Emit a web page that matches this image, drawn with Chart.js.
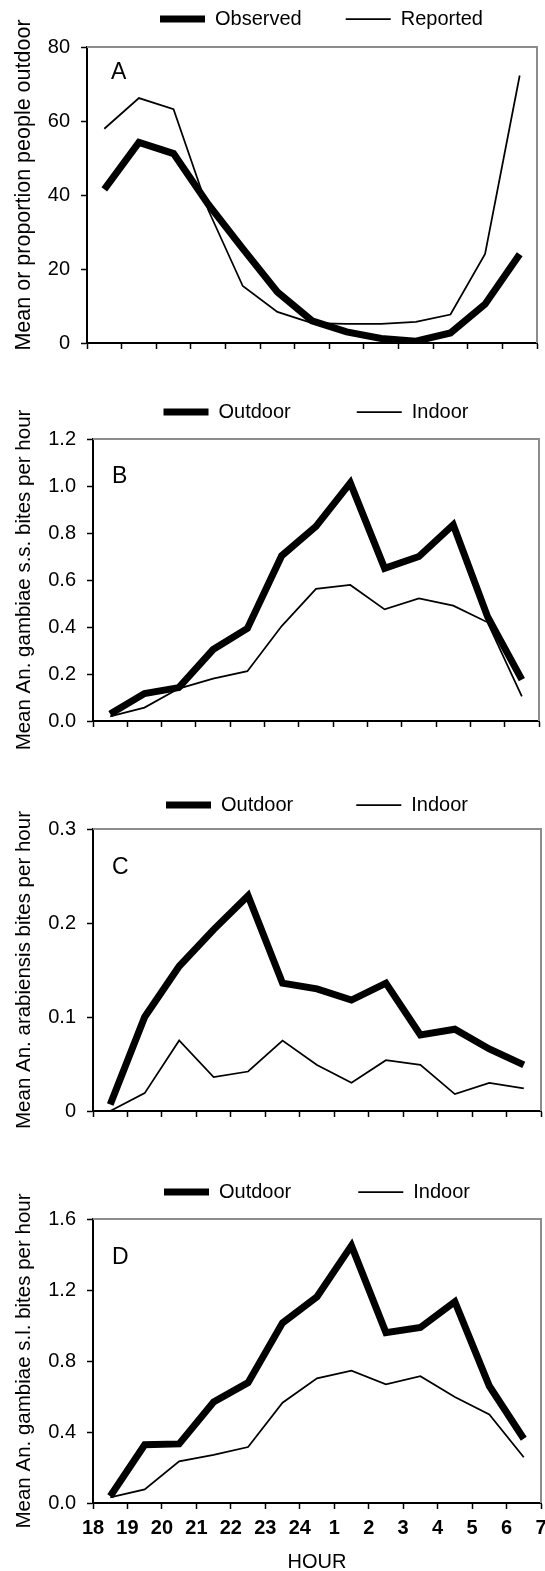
<!DOCTYPE html>
<html>
<head>
<meta charset="utf-8">
<script src="https://cdn.jsdelivr.net/npm/chart.js@4.4.1/dist/chart.umd.min.js"></script>
<style>
html,body{margin:0;padding:0;background:#fff;overflow:hidden;}
body{width:545px;height:1571px;position:relative;}
.pane{position:absolute;left:0;}
canvas{display:block;}
</style>
</head>
<body>
<div class="pane" style="top:0px"><canvas id="cA" width="700" height="360"></canvas></div>
<div class="pane" style="top:360px"><canvas id="cB" width="545" height="400"></canvas></div>
<div class="pane" style="top:750px"><canvas id="cC" width="545" height="400"></canvas></div>
<div class="pane" style="top:1130px"><canvas id="cD" width="545" height="441"></canvas></div>
<script>
// ---- data ----
const hourMid = [18.5, 19.5, 20.5, 21.5, 22.5, 23.5, 24.5, 25.5, 26.5, 27.5, 28.5, 29.5, 30.5];
const hourTickLabels = ['18','19','20','21','22','23','24','1','2','3','4','5','6','7'];

const observedA = [41.5, 54.2, 51.2, 37.5, 25.5, 13.8, 6.0, 3.0, 1.2, 0.5, 2.7, 10.5, 24.0];
const reportedA = [57.9, 66.2, 63.2, 36.0, 15.4, 8.4, 5.4, 5.2, 5.2, 5.7, 7.7, 24.1, 72.3];

const outdoorB = [0.030, 0.117, 0.142, 0.304, 0.394, 0.703, 0.828, 1.013, 0.650, 0.700, 0.835, 0.444, 0.176];
const indoorB  = [0.020, 0.057, 0.138, 0.180, 0.212, 0.404, 0.562, 0.579, 0.475, 0.522, 0.491, 0.420, 0.105];

const outdoorC = [0.007, 0.100, 0.154, 0.193, 0.229, 0.136, 0.130, 0.118, 0.136, 0.081, 0.087, 0.066, 0.049];
const indoorC  = [0.000, 0.019, 0.075, 0.036, 0.042, 0.075, 0.049, 0.030, 0.054, 0.049, 0.018, 0.030, 0.024];

const outdoorD = [0.038, 0.328, 0.333, 0.569, 0.678, 1.015, 1.162, 1.450, 0.960, 0.989, 1.134, 0.659, 0.362];
const indoorD  = [0.032, 0.077, 0.235, 0.271, 0.315, 0.565, 0.702, 0.746, 0.669, 0.714, 0.597, 0.499, 0.258];

const yTicksA = ['0','20','40','60','80'];
const yTicksB = ['0.0','0.2','0.4','0.6','0.8','1.0','1.2'];
const yTicksC = ['0','0.1','0.2','0.3'];
const yTicksD = ['0.0','0.4','0.8','1.2','1.6'];

// ---- rendering ----
const FONT = "'Liberation Sans', Arial, Helvetica, sans-serif";
Chart.defaults.font.family = FONT;
Chart.defaults.font.size = 20;
Chart.defaults.color = '#000';

const decor = {
  id: 'decor',
  beforeDatasetsDraw(chart, args, o) {
    const {ctx, chartArea: a} = chart;
    ctx.save();
    ctx.strokeStyle = '#8c8c8c';
    ctx.lineWidth = 2;
    ctx.beginPath();
    ctx.moveTo(a.left, a.top);
    ctx.lineTo(a.right, a.top);
    ctx.lineTo(a.right, a.bottom);
    ctx.stroke();
    ctx.restore();
  },
  afterDraw(chart, args, o) {
    const {ctx, chartArea: a} = chart;
    ctx.save();
    ctx.fillStyle = '#000';
    ctx.textBaseline = 'middle';
    ctx.textAlign = 'left';
    ctx.font = '23px ' + FONT;
    ctx.fillText(o.letter, a.left + o.letterDx, a.top + o.letterDy);
    ctx.font = o.yTitleSize + 'px ' + FONT;
    ctx.translate(o.yTitleX, (a.top + a.bottom) / 2 + o.yTitleShift);
    ctx.rotate(-Math.PI / 2);
    ctx.textAlign = 'center';
    ctx.fillText(o.yTitle, 0, 0);
    ctx.restore();
  }
};

function makeChart(id, cfg) {
  const mk = (arr) => hourMid.map((h, i) => ({x: h, y: arr[i]}));
  const canvas = document.getElementById(id);
  const W = canvas.width;
  const extra = cfg.rightExtra || 0;
  const scales = {
    x: {
      type: 'linear', min: 18, max: 31,
      ticks: {stepSize: 1, display: cfg.showX, autoSkip: false, maxRotation: 0, padding: 7, color: '#000',
              font: {size: 20, weight: 'bold'}, callback: (v, i) => hourTickLabels[i]},
      grid: {display: true, drawOnChartArea: false, drawTicks: true, tickLength: 6, tickWidth: 1.5, tickColor: '#000'},
      border: {display: true, color: '#000', width: 2},
      title: {display: cfg.showX, text: 'HOUR', color: '#000', font: {size: 20}, padding: {top: 0, bottom: -3}},
      afterFit: (s) => { s.height = cfg.xH; s.paddingLeft = 0; s.paddingRight = 0; }
    },
    y: {
      min: 0, max: cfg.yMax,
      ticks: {stepSize: cfg.yStep, padding: 11, color: '#000', font: {size: 20}, autoSkip: false,
              callback: (v, i) => cfg.yTicks[i]},
      grid: {display: true, drawOnChartArea: false, drawTicks: true, tickLength: 6, tickWidth: 1.5, tickColor: '#000'},
      border: {display: true, color: '#000', width: 2},
      afterFit: (s) => { s.width = cfg.L; s.paddingTop = 0; s.paddingBottom = 0; }
    }
  };
  if (extra) {
    // empty right-hand spacer so the legend row sits where the reference puts it
    scales.yRightSpace = {
      position: 'right', display: true, min: 0, max: 1,
      grid: {display: false, drawTicks: false}, border: {display: false}, ticks: {display: false},
      afterFit: (s) => { s.width = extra; s.paddingTop = 0; s.paddingBottom = 0; }
    };
  }
  return new Chart(canvas, {
    type: 'line',
    data: {
      datasets: [
        {label: cfg.names[0], data: mk(cfg.series[0]), borderColor: '#000', backgroundColor: '#000',
         borderWidth: 7, pointRadius: 0, pointHoverRadius: 0, pointStyle: 'line', tension: 0, fill: false},
        {label: cfg.names[1], data: mk(cfg.series[1]), borderColor: '#000', backgroundColor: '#000',
         borderWidth: 1.75, pointRadius: 0, pointHoverRadius: 0, pointStyle: 'line', tension: 0, fill: false}
      ]
    },
    options: {
      responsive: false,
      animation: false,
      devicePixelRatio: 1,
      events: [],
      layout: {padding: {top: cfg.padTop, bottom: cfg.padBottom, left: 0, right: W - cfg.R - extra}},
      plugins: {
        legend: {
          display: true, position: 'top', fullSize: !!extra, align: 'center',
          labels: {usePointStyle: true, pointStyleWidth: 45, padding: cfg.legendGap, color: '#000', font: {size: 20}}
        },
        title: {display: true, text: '', weight: 500, font: {size: 1, lineHeight: 1}, padding: {top: 0, bottom: cfg.spacer - 1}},
        tooltip: {enabled: false},
        decor: {letter: cfg.letter, letterDx: cfg.letterDx, letterDy: cfg.letterDy,
                yTitle: cfg.yTitle, yTitleX: 24, yTitleShift: cfg.yTitleShift, yTitleSize: cfg.yTitleSize}
      },
      scales: scales
    },
    plugins: [decor]
  });
}

makeChart('cA', {names: ['Observed', 'Reported'], series: [observedA, reportedA],
  L: 87, R: 537, rightExtra: 106, padTop: -35, padBottom: 7, xH: 10, legendGap: 44, spacer: 8,
  yMax: 80, yStep: 20, yTicks: yTicksA, showX: false,
  letter: 'A', letterDx: 24, letterDy: 26,
  yTitle: 'Mean or proportion people outdoor', yTitleShift: -10, yTitleSize: 21.5});

makeChart('cB', {names: ['Outdoor', 'Indoor'], series: [outdoorB, indoorB],
  L: 93, R: 539, padTop: -24, padBottom: 29, xH: 10, legendGap: 66, spacer: 7,
  yMax: 1.2, yStep: 0.2, yTicks: yTicksB, showX: false,
  letter: 'B', letterDx: 19, letterDy: 38,
  yTitle: 'Mean An. gambiae s.s. bites per hour', yTitleShift: 0, yTitleSize: 20.5});

makeChart('cC', {names: ['Outdoor', 'Indoor'], series: [outdoorC, indoorC],
  L: 93, R: 541, padTop: -18, padBottom: 29, xH: 10, legendGap: 63, spacer: 4,
  yMax: 0.3, yStep: 0.1, yTicks: yTicksC, showX: false,
  letter: 'C', letterDx: 19, letterDy: 39,
  yTitle: 'Mean An. arabiensis bites per hour', yTitleShift: 0, yTitleSize: 20.5});

makeChart('cD', {names: ['Outdoor', 'Indoor'], series: [outdoorD, indoorD],
  L: 93, R: 541, padTop: -15, padBottom: 0, xH: 68, legendGap: 67, spacer: 7,
  yMax: 1.6, yStep: 0.4, yTicks: yTicksD, showX: true,
  letter: 'D', letterDx: 19, letterDy: 39,
  yTitle: 'Mean An. gambiae s.l. bites per hour', yTitleShift: 0, yTitleSize: 20.5});
</script>
</body>
</html>
